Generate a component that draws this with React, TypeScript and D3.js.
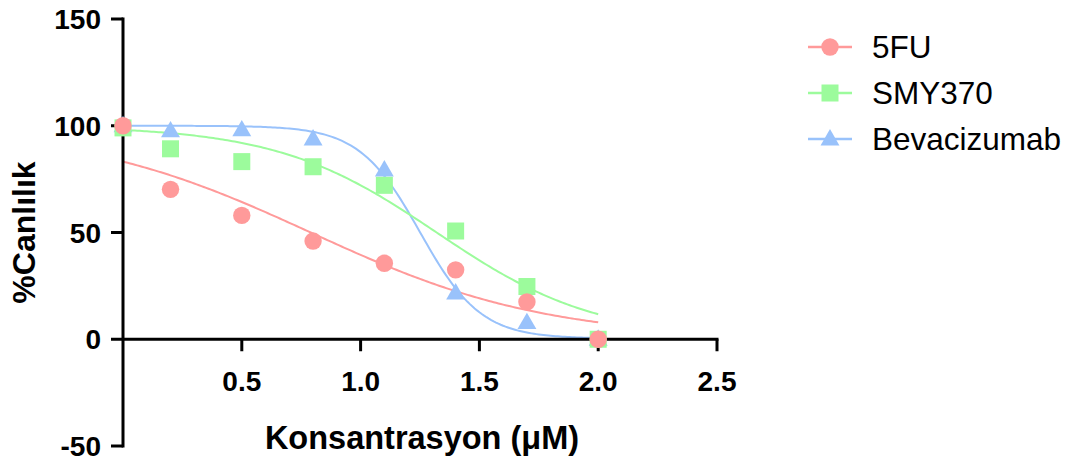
import React from "react";
import * as d3 from "d3";

// Concentration levels (x) and % viability for each compound
const concentrations = [0, 0.2, 0.5, 0.8, 1.1, 1.4, 1.7, 2.0];
const fuValues = [100, 70.2, 58, 46, 35.6, 32.5, 17.5, 0];
const smyValues = [99, 89.2, 83.2, 80.8, 72.1, 50.7, 24.7, 0];
const bevValues = [100, 97.6, 98.1, 93.8, 79.3, 21.7, 7.8, 0];

// Four-parameter logistic fit parameters: [top, bottom, logIC50, hill]
const fuFit = [100, 0, 0.79, 0.88];
const smyFit = [100, 0, 1.32, 1.29];
const bevFit = [100, 0.3, 1.25, 3.4];

const seriesNames = ["5FU", "SMY370", "Bevacizumab"];
const seriesColors = ["#ff9a9a", "#9cfb9c", "#99c2fb"];
const seriesShapes = ["circle", "square", "triangle"];

const xTicks = [0.5, 1.0, 1.5, 2.0, 2.5];
const yTicks = [-50, 0, 50, 100, 150];

const W = 1074;
const H = 467;

const FONT = "'Liberation Sans', Arial, Helvetica, sans-serif";

const x = d3.scaleLinear().domain([0, 2.5]).range([123, 717]);
const y = d3.scaleLinear().domain([-50, 150]).range([446, 19]);

function logistic(p: number[], v: number) {
  const [top, bottom, logIC50, hill] = p;
  return bottom + (top - bottom) / (1 + Math.pow(10, (v - logIC50) * hill));
}

function Marker({ shape, cx, cy, color }: { shape: string; cx: number; cy: number; color: string }) {
  if (shape === "circle") return <circle cx={cx} cy={cy} r={8.7} fill={color} />;
  if (shape === "square") return <rect x={cx - 8.5} y={cy - 8.5} width={17} height={17} fill={color} />;
  const sym = d3.symbol().type(d3.symbolTriangle).size(155)();
  return <path d={sym || ""} transform={`translate(${cx},${cy + 1})`} fill={color} />;
}

export default function App() {
  const series = [
    { name: seriesNames[0], values: fuValues, fit: fuFit, color: seriesColors[0], shape: seriesShapes[0] },
    { name: seriesNames[1], values: smyValues, fit: smyFit, color: seriesColors[1], shape: seriesShapes[1] },
    { name: seriesNames[2], values: bevValues, fit: bevFit, color: seriesColors[2], shape: seriesShapes[2] },
  ];
  const xMin = d3.min(concentrations) as number;
  const xMax = d3.max(concentrations) as number;
  const samples = d3.range(0, 201).map((i) => xMin + ((xMax - xMin) * i) / 200);
  const line = d3
    .line<[number, number]>()
    .x((d) => x(d[0]))
    .y((d) => y(d[1]))
    .curve(d3.curveLinear);

  const drawOrder = [...series].reverse();

  return (
    <svg
      width={W}
      height={H}
      style={{ position: "absolute", left: 0, top: 0, display: "block", background: "#fff" }}
      fontFamily={FONT}
    >
      {/* fitted curves */}
      {drawOrder.map((s) => (
        <path
          key={"c" + s.name}
          d={line(samples.map((v) => [v, logistic(s.fit, v)] as [number, number])) || ""}
          fill="none"
          stroke={s.color}
          strokeWidth={2}
        />
      ))}

      {/* axes */}
      <g stroke="#000" strokeWidth={3} fill="none">
        <line x1={x(0)} x2={x(0)} y1={y(150) - 1.5} y2={y(-50) + 1.5} />
        <line x1={x(0)} x2={x(2.5) + 1.5} y1={y(0)} y2={y(0)} />
        {yTicks.map((t) => (
          <line key={"yt" + t} x1={x(0) - 12} x2={x(0)} y1={y(t)} y2={y(t)} />
        ))}
        {xTicks.map((t) => (
          <line key={"xt" + t} x1={x(t)} x2={x(t)} y1={y(0)} y2={y(0) + 12} />
        ))}
      </g>
      {yTicks.map((t) => (
        <text
          key={"yl" + t}
          x={101}
          y={y(t) + 10}
          textAnchor="end"
          fontSize={28}
          fontWeight="bold"
          fill="#000"
        >
          {t}
        </text>
      ))}
      {xTicks.map((t) => (
        <text
          key={"xl" + t}
          x={x(t)}
          y={391}
          textAnchor="middle"
          fontSize={28}
          fontWeight="bold"
          fill="#000"
        >
          {d3.format(".1f")(t)}
        </text>
      ))}
      <text x={422} y={449} textAnchor="middle" fontSize={32.5} fontWeight="bold" fill="#000">
        Konsantrasyon (μM)
      </text>
      <text
        transform={`translate(35,${y(50)}) rotate(-90)`}
        textAnchor="middle"
        fontSize={32}
        fontWeight="bold"
        fill="#000"
      >
        %Canlılık
      </text>

      {/* data points */}
      {drawOrder.map((s) =>
        s.values.map((v, i) => (
          <Marker key={s.name + i} shape={s.shape} cx={x(concentrations[i])} cy={y(v)} color={s.color} />
        ))
      )}

      {/* legend */}
      {series.map((s, i) => {
        const ly = 47 + i * 46;
        return (
          <g key={"lg" + s.name}>
            <line x1={808} x2={852} y1={ly} y2={ly} stroke={s.color} strokeWidth={2.5} />
            <Marker shape={s.shape} cx={830} cy={ly} color={s.color} />
            <text x={872} y={ly + 11} fontSize={31.5} fill="#000">
              {s.name}
            </text>
          </g>
        );
      })}
    </svg>
  );
}
